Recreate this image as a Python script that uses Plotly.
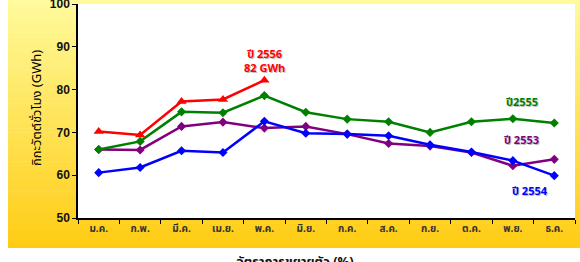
import plotly.graph_objects as go

months = ["ม.ค.", "ก.พ.", "มี.ค.", "เม.ย.", "พ.ค.", "มิ.ย.", "ก.ค.", "ส.ค.", "ก.ย.", "ต.ค.", "พ.ย.", "ธ.ค."]
y2553 = [66.0, 65.9, 71.4, 72.4, 71.0, 71.4, 69.6, 67.4, 66.8, 65.3, 62.2, 63.7]
y2554 = [60.6, 61.8, 65.7, 65.3, 72.6, 69.8, 69.6, 69.2, 67.1, 65.4, 63.4, 59.9]
y2555 = [66.0, 67.9, 74.8, 74.6, 78.6, 74.7, 73.1, 72.5, 70.0, 72.5, 73.2, 72.2]
y2556 = [70.2, 69.4, 77.2, 77.7, 82.2]
yticks = [50, 60, 70, 80, 90, 100]

W, H = 580, 262
ml, mr, mt, mb = 78, 5, 4, 44
pw, ph = W - ml - mr, H - mt - mb

def px2paper_x(px):
    return (px - ml) / pw

def px2paper_y(py):
    return (H - mb - py) / ph

fig = go.Figure()

series = [
    ("2553", y2553, "#800080", "diamond", 7),
    ("2554", y2554, "#0000FF", "diamond", 7),
    ("2555", y2555, "#008000", "diamond", 7),
    ("2556", y2556, "#FF0000", "triangle-up", 9),
]
for name, vals, col, sym, sz in series:
    fig.add_trace(go.Scatter(
        x=months[:len(vals)], y=vals, mode="lines+markers", name=name,
        line=dict(color=col, width=2.5),
        marker=dict(symbol=sym, size=sz, color=col),
        showlegend=False, cliponaxis=False,
    ))

# gradient background
shapes = []
top = (255, 250, 155)
bot = (255, 204, 20)
y0px, y1px = 0, 248
n = 60
for i in range(n):
    t = i / (n - 1)
    c = tuple(int(round(top[k] + (bot[k] - top[k]) * t)) for k in range(3))
    a = y0px + (y1px - y0px) * i / n
    b = y0px + (y1px - y0px) * (i + 1) / n + 0.5
    shapes.append(dict(type="rect", xref="paper", yref="paper", layer="below",
                       x0=px2paper_x(8), x1=px2paper_x(581),
                       y0=px2paper_y(min(b, y1px)), y1=px2paper_y(a),
                       fillcolor="rgb(%d,%d,%d)" % c, line=dict(width=0)))
shapes.append(dict(type="rect", xref="paper", yref="paper", layer="below",
                   x0=0, x1=1, y0=0, y1=1, fillcolor="white", line=dict(width=0)))

font_thai = "Tahoma, 'Noto Sans Thai', 'DejaVu Sans', sans-serif"

labels = [
    (4, 86.5, "<b>ปี 2556<br>82 GWh</b>", "#FF0000"),
    (10.2, 77.1, "<b>ปี2555</b>", "#008000"),
    (10.2, 68.0, "<b>ปี 2553</b>", "#800080"),
    (10.4, 56.1, "<b>ปี 2554</b>", "#0000FF"),
]
annotations = []
for x, y, t, c in labels:
    annotations.append(dict(x=x, y=y, xref="x", yref="y", text=t, showarrow=False,
                            xshift=1, yshift=-1,
                            font=dict(color="rgba(110,110,110,0.45)", size=11, family=font_thai)))
    annotations.append(dict(x=x, y=y, xref="x", yref="y", text=t, showarrow=False,
                            font=dict(color=c, size=11, family=font_thai)))
annotations += [
    dict(x=px2paper_x(295), y=px2paper_y(250), xref="paper", yref="paper", yanchor="top",
         text="<b>อัตราการขยายตัว (%)</b>", showarrow=False,
         font=dict(color="#111", size=13, family=font_thai)),
    dict(x=px2paper_x(25), y=px2paper_y(108), xref="paper", yref="paper", textangle=-90,
         text="กิกะวัตต์ชั่วโมง (GWh)", showarrow=False,
         font=dict(color="#000", size=13, family=font_thai)),
]

fig.update_layout(
    width=W, height=H,
    margin=dict(l=ml, r=mr, t=mt, b=mb, autoexpand=False),
    paper_bgcolor="white", plot_bgcolor="rgba(0,0,0,0)",
    shapes=shapes, annotations=annotations,
    xaxis=dict(type="category", categoryorder="array", categoryarray=months,
               range=[-0.5, 11.5], showgrid=False, showline=True, linecolor="black", linewidth=1.5,
               ticks="outside", ticklen=4, tickcolor="black", tickson="boundaries",
               tickmode="array", tickvals=months, ticktext=["<b>%s</b>" % m for m in months],
               tickfont=dict(size=10, color="#333", family=font_thai), zeroline=False,
               automargin=False),
    yaxis=dict(range=[50, 100], tickmode="array", tickvals=yticks,
               ticktext=["<b>%d</b>" % v for v in yticks], showgrid=False, showline=True,
               linecolor="black", linewidth=1.5, ticks="outside", ticklen=4, tickcolor="black",
               tickfont=dict(size=12, color="#111", family="Arial, 'Liberation Sans', sans-serif"),
               zeroline=False, automargin=False, ticklabeloverflow="allow"),
)

fig.write_html("out.html", config={"displayModeBar": False},
               post_script="document.body.style.margin='0px';")
